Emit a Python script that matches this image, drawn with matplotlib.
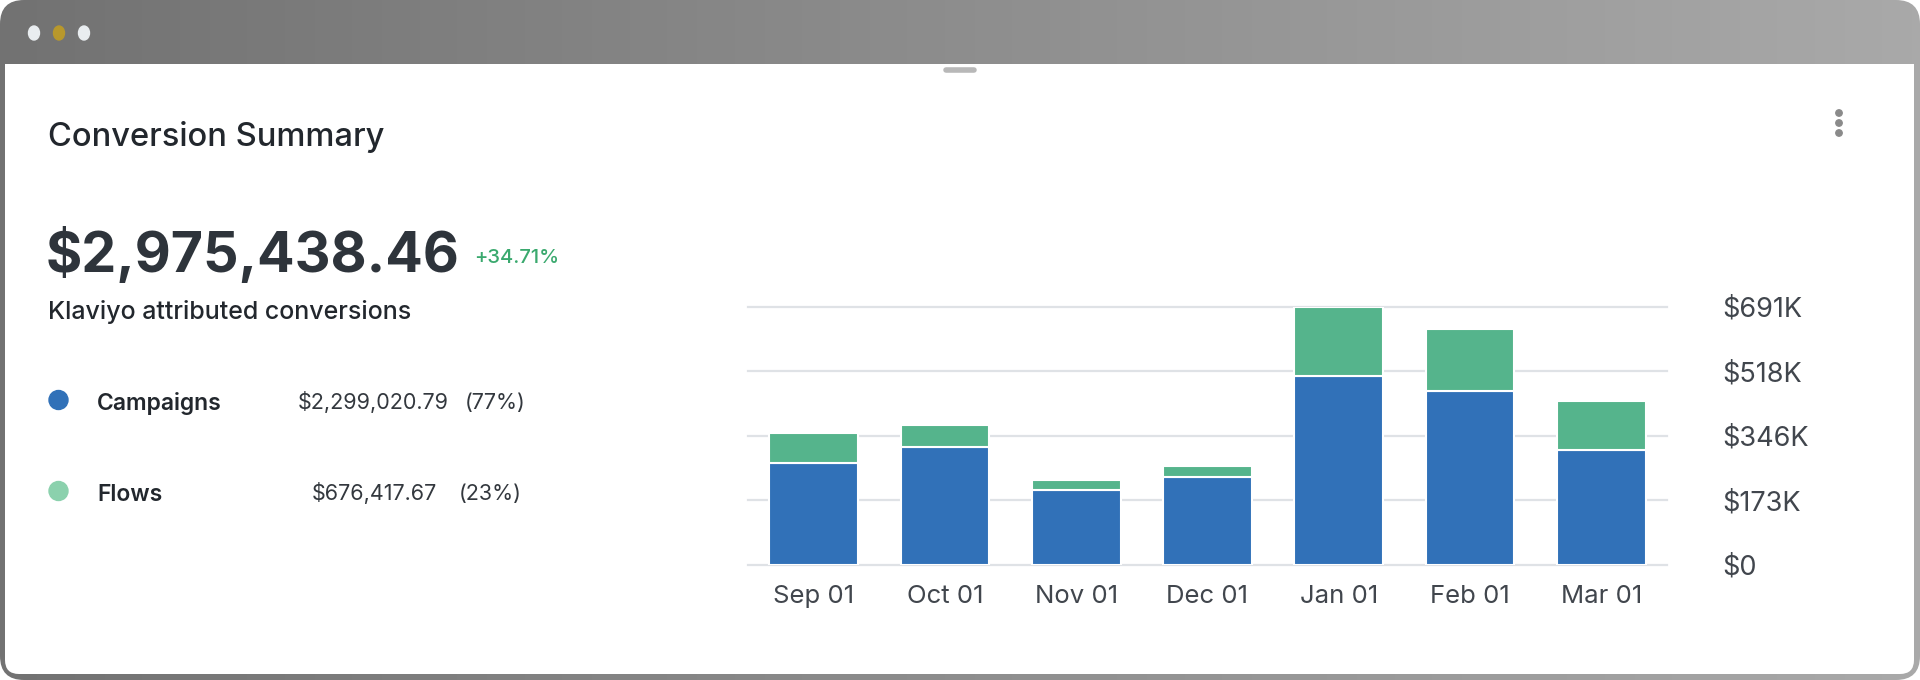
import matplotlib
matplotlib.use('Agg')
import matplotlib.pyplot as plt
import numpy as np
from matplotlib.patches import FancyBboxPatch, Ellipse, Circle, Rectangle
from matplotlib.colors import LinearSegmentedColormap

plt.rcParams['font.family'] = ['Inter', 'DejaVu Sans']

# ── data ───────────────────────────────────────────────────────────────────
months = ['Sep 01', 'Oct 01', 'Nov 01', 'Dec 01', 'Jan 01', 'Feb 01', 'Mar 01']
campaigns = [272600, 315000, 199600, 235600, 506000, 464000, 306700]
flows = [79900, 58000, 27400, 29400, 185000, 166000, 130300]
y_ticks = [0, 172750, 345500, 518250, 691000]
y_labels = ['$0', '$173K', '$346K', '$518K', '$691K']

total_label = '$2,975,438.46'
change_label = '+34.71%'
series_names = ['Campaigns', 'Flows']
series_amounts = ['$2,299,020.79', '$676,417.67']
series_shares = ['(77%)', '(23%)']

BLUE = '#3171b8'
GREEN = '#55b48c'
FLOW_DOT = '#8bd1ad'
TEXT = '#22272d'
AXIS_TEXT = '#41464d'
GRID = '#dfe2e6'

W, H = 1920, 680
fig = plt.figure(figsize=(W / 100, H / 100), dpi=100)
fig.patch.set_facecolor('white')

# ── window chrome (pixel coordinates, y down) ──────────────────────────────
bg = fig.add_axes([0, 0, 1, 1])
bg.set_xlim(0, W)
bg.set_ylim(H, 0)
bg.axis('off')

window = FancyBboxPatch((0, 0), W, H, boxstyle='round,pad=0,rounding_size=24',
                        facecolor='none', edgecolor='none')
bg.add_patch(window)
grad = np.linspace(0, 1, 256)[None, :]
cmap = LinearSegmentedColormap.from_list('chrome', ['#727272', '#a9a9a9'])
img = bg.imshow(grad, extent=[0, W, H, 0], cmap=cmap, aspect='auto', zorder=1)
img.set_clip_path(window)
bg.set_xlim(0, W)
bg.set_ylim(H, 0)

bg.add_patch(FancyBboxPatch((5, 64), W - 11, H - 64 - 6,
                            boxstyle='round,pad=0,rounding_size=14',
                            facecolor='white', edgecolor='none', zorder=2))
bg.add_patch(Rectangle((5, 64), W - 11, 40, facecolor='white',
                       edgecolor='none', zorder=2))

for cx, col in zip([34, 59, 84], ['#e9edf0', '#b8982c', '#e9edf0']):
    bg.add_patch(Ellipse((cx, 33), 11, 14, color=col, zorder=3))

bg.plot([946, 974], [70, 70], color='#b8b8b8', lw=4,
        solid_capstyle='round', zorder=3)

for cy in [113, 123, 133]:
    bg.add_patch(Circle((1839, cy), 3.2, color='#8a8a8a', zorder=3))

# ── left summary text ──────────────────────────────────────────────────────
bg.text(48, 146, 'Conversion Summary', fontsize=23.5, fontweight='medium',
        color=TEXT, va='baseline', zorder=4)
bg.text(46, 272, total_label, fontsize=40, fontweight='bold',
        color='#2e343b', va='baseline', zorder=4)
bg.text(474, 263, change_label, fontsize=14.5, fontweight='medium',
        color='#3aa96e', va='baseline', zorder=4)
bg.text(48, 319, 'Klaviyo attributed conversions', fontsize=18,
        fontweight='medium', color=TEXT, va='baseline', zorder=4)

row_y = [400, 491]
dot_colors = [BLUE, FLOW_DOT]
amount_x = [298, 312]
share_x = [465, 459]
for i, name in enumerate(series_names):
    bg.add_patch(Circle((58.5, row_y[i]), 9.5, color=dot_colors[i], zorder=4))
    bg.text(97, row_y[i] + 10, name, fontsize=16.5, fontweight='semibold',
            color=TEXT, va='baseline', zorder=4)
    bg.text(amount_x[i], row_y[i] + 9, series_amounts[i], fontsize=15.5,
            color='#33383e', va='baseline', zorder=4)
    bg.text(share_x[i], row_y[i] + 9, series_shares[i], fontsize=15.5,
            color='#33383e', va='baseline', zorder=4)

# ── stacked bar chart ──────────────────────────────────────────────────────
ax = fig.add_axes([748 / W, 1 - 564.5 / H, (1667 - 748) / W, (564.5 - 306.7) / H])
ax.patch.set_alpha(0)
x = np.arange(len(months))
ax.bar(x, campaigns, width=0.675, color=BLUE, edgecolor='white',
       linewidth=1.5, zorder=3)
ax.bar(x, flows, bottom=campaigns, width=0.675, color=GREEN,
       edgecolor='white', linewidth=1.5, zorder=3)
ax.set_xlim(-0.5, 6.5)
ax.set_ylim(0, 691000)
for v in y_ticks:
    ax.axhline(v, color=GRID, lw=1.6, zorder=1, clip_on=False)

ax.set_yticks(y_ticks, y_labels)
ax.yaxis.tick_right()
ax.tick_params(axis='y', length=0, pad=40, labelsize=19.5, labelcolor=AXIS_TEXT)
ax.set_xticks(x, months)
ax.tick_params(axis='x', length=0, pad=15, labelsize=18.5, labelcolor=AXIS_TEXT)
for s in ax.spines.values():
    s.set_visible(False)

fig.savefig('out.png', dpi=100, facecolor='white')
